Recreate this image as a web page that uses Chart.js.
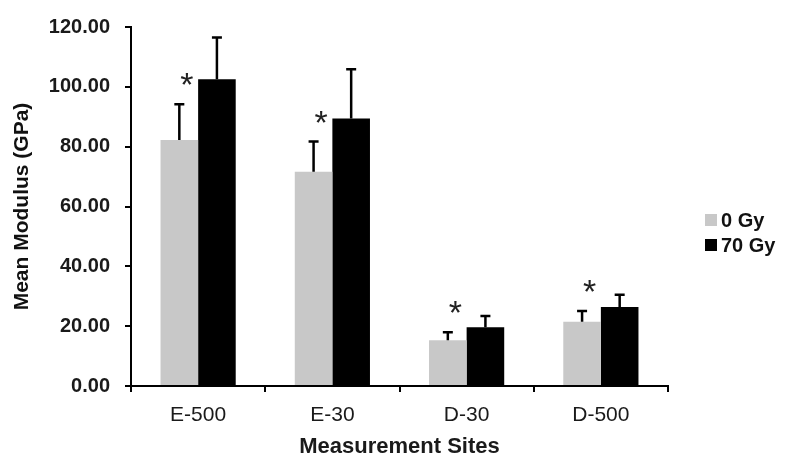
<!DOCTYPE html>
<html>
<head>
<meta charset="utf-8">
<script src="https://cdn.jsdelivr.net/npm/chart.js@4"></script>
<style>
    html, body { margin: 0; padding: 0; background: #fff; }
</style>
</head>
<body>
<canvas id="chart" width="786" height="463"></canvas>
<script>
// ==== data ====
const sites = ['E-500', 'E-30', 'D-30', 'D-500'];
const gy0Mean = [82.2, 71.6, 15.3, 21.5];
const gy0Sd = [12.0, 10.1, 2.7, 3.6];
const gy70Mean = [102.5, 89.4, 19.6, 26.4];
const gy70Sd = [14.0, 16.5, 3.8, 4.1];
const significant = [true, true, true, true];
const yTickValues = [0, 20, 40, 60, 80, 100, 120];

const FONT = "'Liberation Sans', Arial, sans-serif";

// error bars (upper only) + significance stars
const errorBars = {
    id: 'errorBars',
    afterDatasetsDraw(chart) {
        const ctx = chart.ctx, y = chart.scales.y;
        ctx.save();
        ctx.strokeStyle = '#000';
        ctx.lineWidth = 2.5;
        chart.data.datasets.forEach((ds, di) => {
            chart.getDatasetMeta(di).data.forEach((bar, i) => {
                const top = y.getPixelForValue(ds.data[i] + ds.sd[i]);
                ctx.beginPath();
                ctx.moveTo(bar.x, bar.y);
                ctx.lineTo(bar.x, top);
                ctx.moveTo(bar.x - 5, top);
                ctx.lineTo(bar.x + 5, top);
                ctx.stroke();
            });
        });
        // stars above the 0 Gy error bars
        const ds = chart.data.datasets[0];
        ctx.fillStyle = '#222';
        ctx.font = '34px ' + FONT;
        ctx.textAlign = 'center';
        ctx.textBaseline = 'alphabetic';
        const m = ctx.measureText('*');
        chart.getDatasetMeta(0).data.forEach((bar, i) => {
            if (!significant[i]) return;
            const yc = y.getPixelForValue(ds.data[i] + ds.sd[i]) - 25;
            const base = yc + (m.actualBoundingBoxAscent - m.actualBoundingBoxDescent) / 2;
            ctx.fillText('*', bar.x + bar.width * 0.2, base);
        });
        ctx.restore();
    }
};

// legend on the right
const sideLegend = {
    id: 'sideLegend',
    afterDraw(chart) {
        const ctx = chart.ctx;
        ctx.save();
        ctx.font = 'bold 20px ' + FONT;
        ctx.textBaseline = 'middle';
        ctx.textAlign = 'left';
        chart.data.datasets.forEach((ds, i) => {
            const cy = 220 + i * 25;
            ctx.fillStyle = ds.backgroundColor;
            ctx.fillRect(705, cy - 6, 12, 12);
            ctx.fillStyle = '#111';
            ctx.fillText(ds.label, 721, cy + 1);
        });
        ctx.restore();
    }
};

new Chart(document.getElementById('chart'), {
    type: 'bar',
    data: {
        labels: sites,
        datasets: [
            { label: '0 Gy', data: gy0Mean, sd: gy0Sd, backgroundColor: '#c8c8c8' },
            { label: '70 Gy', data: gy70Mean, sd: gy70Sd, backgroundColor: '#000000' }
        ]
    },
    options: {
        responsive: false,
        animation: false,
        categoryPercentage: 0.56,
        barPercentage: 1,
        layout: { padding: { top: 19, right: 118, left: 0, bottom: 0 } },
        plugins: { legend: { display: false }, tooltip: { enabled: false } },
        scales: {
            x: {
                offset: true,
                border: { display: true, color: '#000', width: 2 },
                grid: { display: true, offset: true, drawOnChartArea: false, drawTicks: true, tickLength: 6, color: '#000', lineWidth: 2 },
                ticks: { color: '#1a1a1a', font: { family: FONT, size: 21 }, padding: 11 },
                title: { display: true, text: 'Measurement Sites', color: '#1a1a1a', font: { family: FONT, size: 22, weight: 'bold' }, padding: { top: 0, bottom: 3 } },
                afterFit: s => { s.height = 77; }
            },
            y: {
                min: 0,
                max: 120,
                border: { display: true, color: '#000', width: 2 },
                grid: { display: true, drawOnChartArea: false, drawTicks: true, tickLength: 6, color: '#000', lineWidth: 2 },
                afterBuildTicks: s => { s.ticks = yTickValues.map(v => ({ value: v })); },
                ticks: { color: '#1a1a1a', font: { family: FONT, size: 20, weight: 'bold' }, padding: 15, callback: v => Number(v).toFixed(2) },
                title: { display: true, text: 'Mean Modulus (GPa)', color: '#111', font: { family: FONT, size: 21, weight: 'bold' }, padding: { top: 10, bottom: 0 } },
                afterFit: s => { s.width = 131; }
            }
        }
    },
    plugins: [errorBars, sideLegend]
});
</script>
</body>
</html>
